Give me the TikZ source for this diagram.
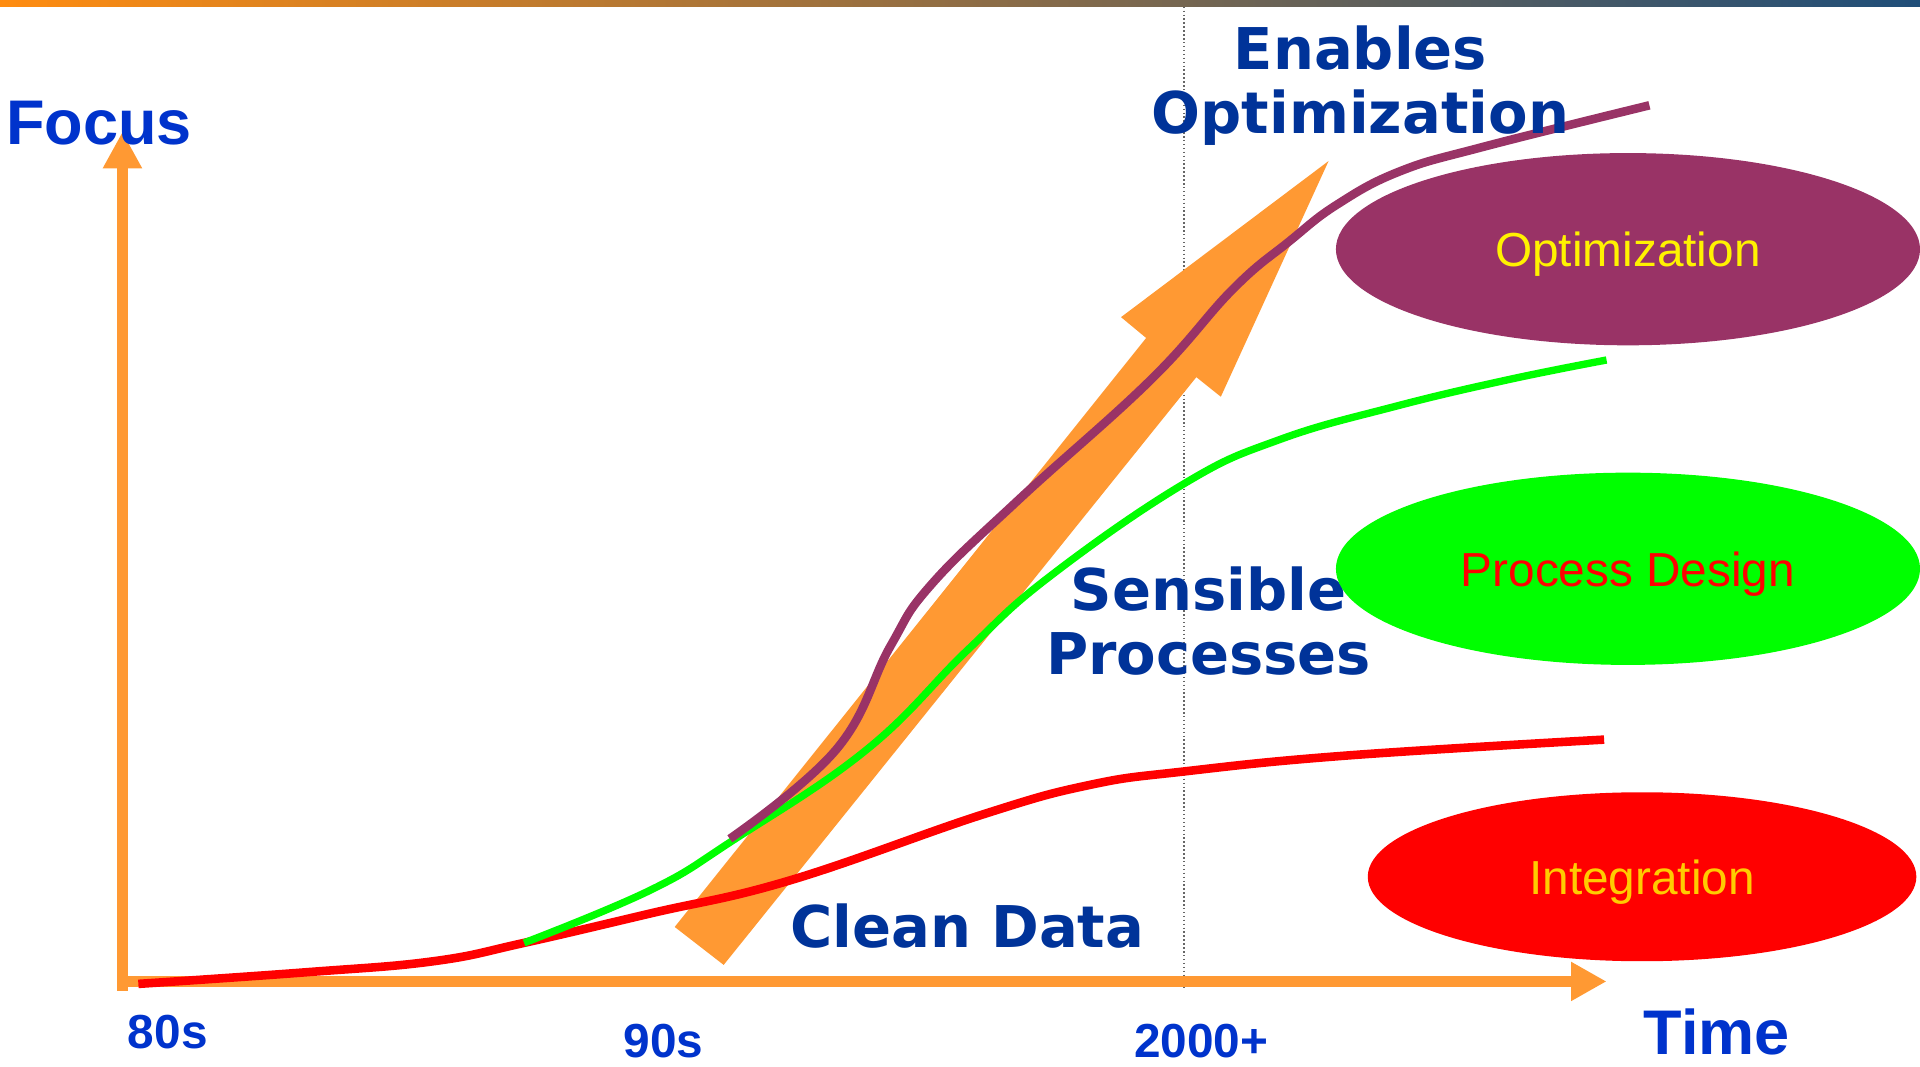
\documentclass[tikz,border=0pt]{standalone}
\usepackage{fontspec}
\setmainfont{Liberation Sans}
\newfontfamily\verdana{DejaVu Sans}
\usetikzlibrary{arrows.meta,shapes.geometric}
\definecolor{barorange}{RGB}{255,140,16}
\definecolor{barblue}{RGB}{31,78,121}
\definecolor{axisorange}{RGB}{255,153,51}
\definecolor{plum}{RGB}{153,51,102}
\definecolor{textnavy}{RGB}{0,51,153}
\definecolor{labelblue}{RGB}{0,51,204}
\definecolor{gold}{RGB}{255,204,0}
\definecolor{lime}{RGB}{0,255,0}
\begin{document}
\begin{tikzpicture}[x=1pt, y=-1pt,
	axis/.style={draw=axisorange, line width=9pt},
	curve/.style={line width=7pt},
	year/.style={font=\fontsize{39}{44}\selectfont\bfseries, text=labelblue, anchor=base},
	title/.style={font=\fontsize{51.5}{56}\selectfont\bfseries, text=labelblue, anchor=base},
	phase/.style={font=\verdana\fontsize{47}{52}\selectfont\bfseries, text=textnavy, align=center, inner sep=0},
	blob/.style={ellipse, inner sep=0, text depth=0pt, font=\fontsize{39}{44}\selectfont}]
	\useasboundingbox (0,0) rectangle (1568,871);
	\shade[left color=barorange, right color=barblue] (0,0) rectangle (1568,5.5);
	% 2000 marker
	\draw[black!60, dotted, line width=1.2pt] (967,5.5) -- (967,808);
	% Big arrow
	\fill[axisorange] (551,757) -- (936,276) -- (915.5,259) -- (1085,131.5) -- (997,324) -- (977,308) -- (591,788) -- cycle;
	% Axes
	\coordinate (origin) at (100,809);
	\coordinate (ytop) at (100,107.5);
	\coordinate (xleft) at (96,801.5);
	\coordinate (xright) at (1312,801.5);
	\draw[axis, -{Triangle[length=30pt, width=30pt]}] (origin) -- (ytop);
	\draw[axis, -{Triangle[length=29pt, width=30pt]}] (xleft) -- (xright);
	% Curves
	\draw[curve, red] plot[smooth, tension=0.7] coordinates {(113,803.5) (250,794) (354,785) (428,770) (531,746) (645,719) (803,665) (890,641) (967,630) (1100,617) (1310,604)};
	\draw[curve, line width=6pt, lime] plot[smooth, tension=0.7] coordinates {(428,770) (531,727) (599,686) (708,612) (790,531) (857,471) (967,395) (1045,359) (1139,332) (1232,310) (1312,294)};
	\draw[curve, plum] plot[smooth, tension=0.7] coordinates {(596,685) (683,612) (727,528) (760,478) (832,408) (940,310) (1007,236) (1053,197) (1092,167) (1143,140) (1211,120) (1347,86)};
	% Labels
	\node[title] (focus) at (81,118) {Focus};
	\node[title] (time) at (1402,861) {Time};
	\node[year] (eighties) at (137,856) {80s};
	\node[year] (nineties) at (542,864) {90s};
	\node[year] (twothousand) at (981,864) {2000+};
	\node[phase] (enables) at (1111,70) {Enables\\Optimization};
	\node[phase] (sensible) at (987,507) {Sensible\\Processes};
	\node[phase, anchor=base] (clean) at (790,774) {Clean Data};
	% Stages
	\node[blob, fill=plum, text=yellow, minimum width=477pt, minimum height=157pt] (optim) at (1329.5,203.5) {Optimization};
	\node[blob, fill=lime, text=red, minimum width=477pt, minimum height=157pt] (design) at (1329.5,464.5) {Process Design};
	\node[blob, fill=red, text=gold, minimum width=448pt, minimum height=138pt] (integ) at (1341,716) {Integration};
\end{tikzpicture}
\end{document}
